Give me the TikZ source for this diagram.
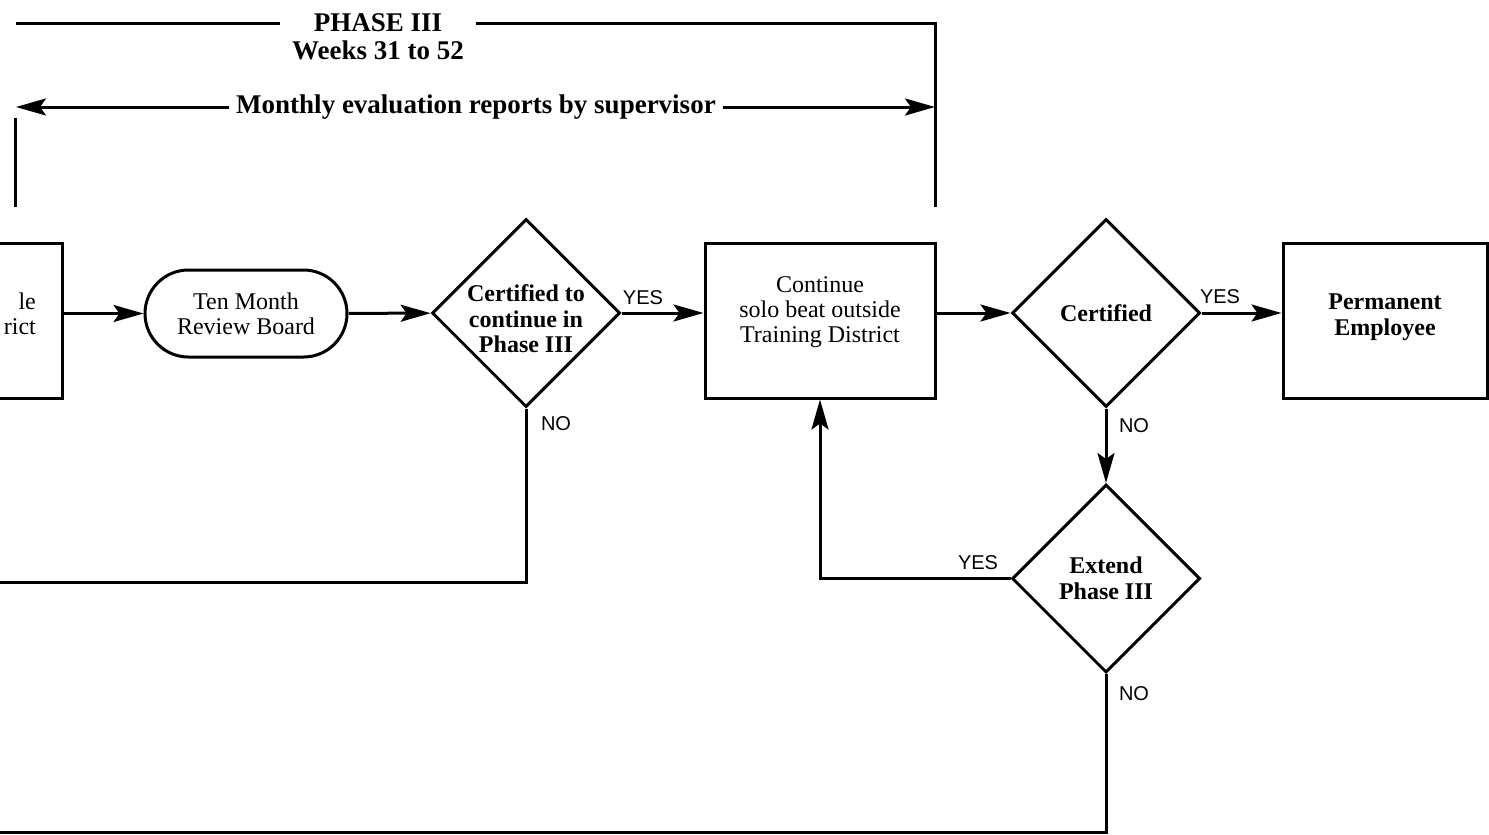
\documentclass[tikz,border=0pt]{standalone}
\usepackage{fontspec}
\setmainfont{Liberation Serif}
\newfontfamily\answerfont{Liberation Sans}
\usetikzlibrary{arrows.meta,shapes.geometric}
\tikzset{
    flowchart/.style={
        x=0.5pt, y=-0.5pt,
        line width=1.5pt,
        every node/.style={font=\fontsize{12}{12.5}\selectfont, align=center},
        box/.style={draw, rectangle, minimum width=115pt, minimum height=77.5pt, inner sep=0pt},
        board/.style={draw, rectangle, rounded corners=21.75pt, minimum width=101pt, minimum height=43.5pt},
        decision/.style={draw, diamond, minimum width=94pt, minimum height=94pt, inner sep=0pt,
            font=\fontsize{12}{12.8}\selectfont\bfseries},
        heading/.style={font=\fontsize{13.5}{14}\selectfont\bfseries},
        answer/.style={font=\answerfont\fontsize{10}{10}\selectfont, inner sep=1pt},
        flow/.style={-{Stealth[length=15pt, width=8.5pt, inset=3pt]}},
    },
}

\begin{document}
\begin{tikzpicture}[flowchart]
    \useasboundingbox (0,0) rectangle (1489,835);
    \clip (0,0) rectangle (1489,835);

    % phase heading and bracket
    \node[heading, inner xsep=16pt, inner ysep=0pt] (phase) at (378,23) {PHASE III};
    \node[heading] (weeks) at (378,50) {Weeks 31 to 52};
    \node[heading, inner xsep=3pt] (monthly) at (476,107) {Monthly evaluation reports by supervisor};
    \coordinate (phaseleft) at (16,23);
    \coordinate (phaseright) at (935,23);
    \coordinate (phaseend) at (935,207);
    \coordinate (sidetop) at (15,118);
    \coordinate (sideend) at (15,207);
    \coordinate (monthleft) at (16,107);
    \coordinate (monthright) at (935,107);
    \draw (phaseleft) -- (phase.west);
    \draw (phase.east) -- (phaseright) -- (phaseend);
    \draw (sidetop) -- (sideend);
    \draw[flow] (monthly.west) -- (monthleft);
    \draw[flow] (monthly.east) -- (monthright);

    % steps
    \node[box, minimum width=61pt] (prev) at (1,320.5) {};
    \node[anchor=east, align=right] (prevtext) at (44,314) {le\\rict};
    \node[board] (review) at (246,313.5) {Ten Month\\Review Board};
    \node[decision, label={[yshift=-3pt, font=\fontsize{12}{12.8}\selectfont\bfseries]center:{Certified to\\continue in\\Phase III}}] (contcert) at (526,313) {};
    \node[box, label={[yshift=4pt]center:{Continue\\solo beat outside\\Training District}}] (solo) at (820,320.5) {};
    \node[decision] (cert) at (1106,313) {Certified};
    \node[box, minimum width=102pt, label={[yshift=1.5pt, font=\fontsize{12}{12.8}\selectfont\bfseries]center:{Permanent\\Employee}}] (perm) at (1385,320.5) {};
    \node[decision] (extend) at (1106,578.5) {Extend\\Phase III};

    % answers
    \node[answer] (yesa) at (643,298) {YES};
    \node[answer] (noa) at (556,424) {NO};
    \node[answer] (yesb) at (1220,297) {YES};
    \node[answer] (nob) at (1134,426) {NO};
    \node[answer] (yesc) at (978,563) {YES};
    \node[answer] (noc) at (1134,694) {NO};

    % connectors
    \coordinate (backa) at (-5,582);
    \coordinate (backb) at (-5,832);
    \draw[flow] (prev.east |- review.west) -- (review.west);
    \draw[flow] (review) -- (contcert);
    \draw[flow] (contcert.east) -- (contcert.east -| solo.west);
    \draw[flow] (solo.east |- cert.west) -- (cert.west);
    \draw[flow] (cert.east) -- (cert.east -| perm.west);
    \draw[flow] (cert.south) -- (extend.north);
    \draw[flow] (extend.west) -| (solo.south);
    \draw (contcert.south) |- (backa);
    \draw (extend.south) |- (backb);
\end{tikzpicture}
\end{document}
